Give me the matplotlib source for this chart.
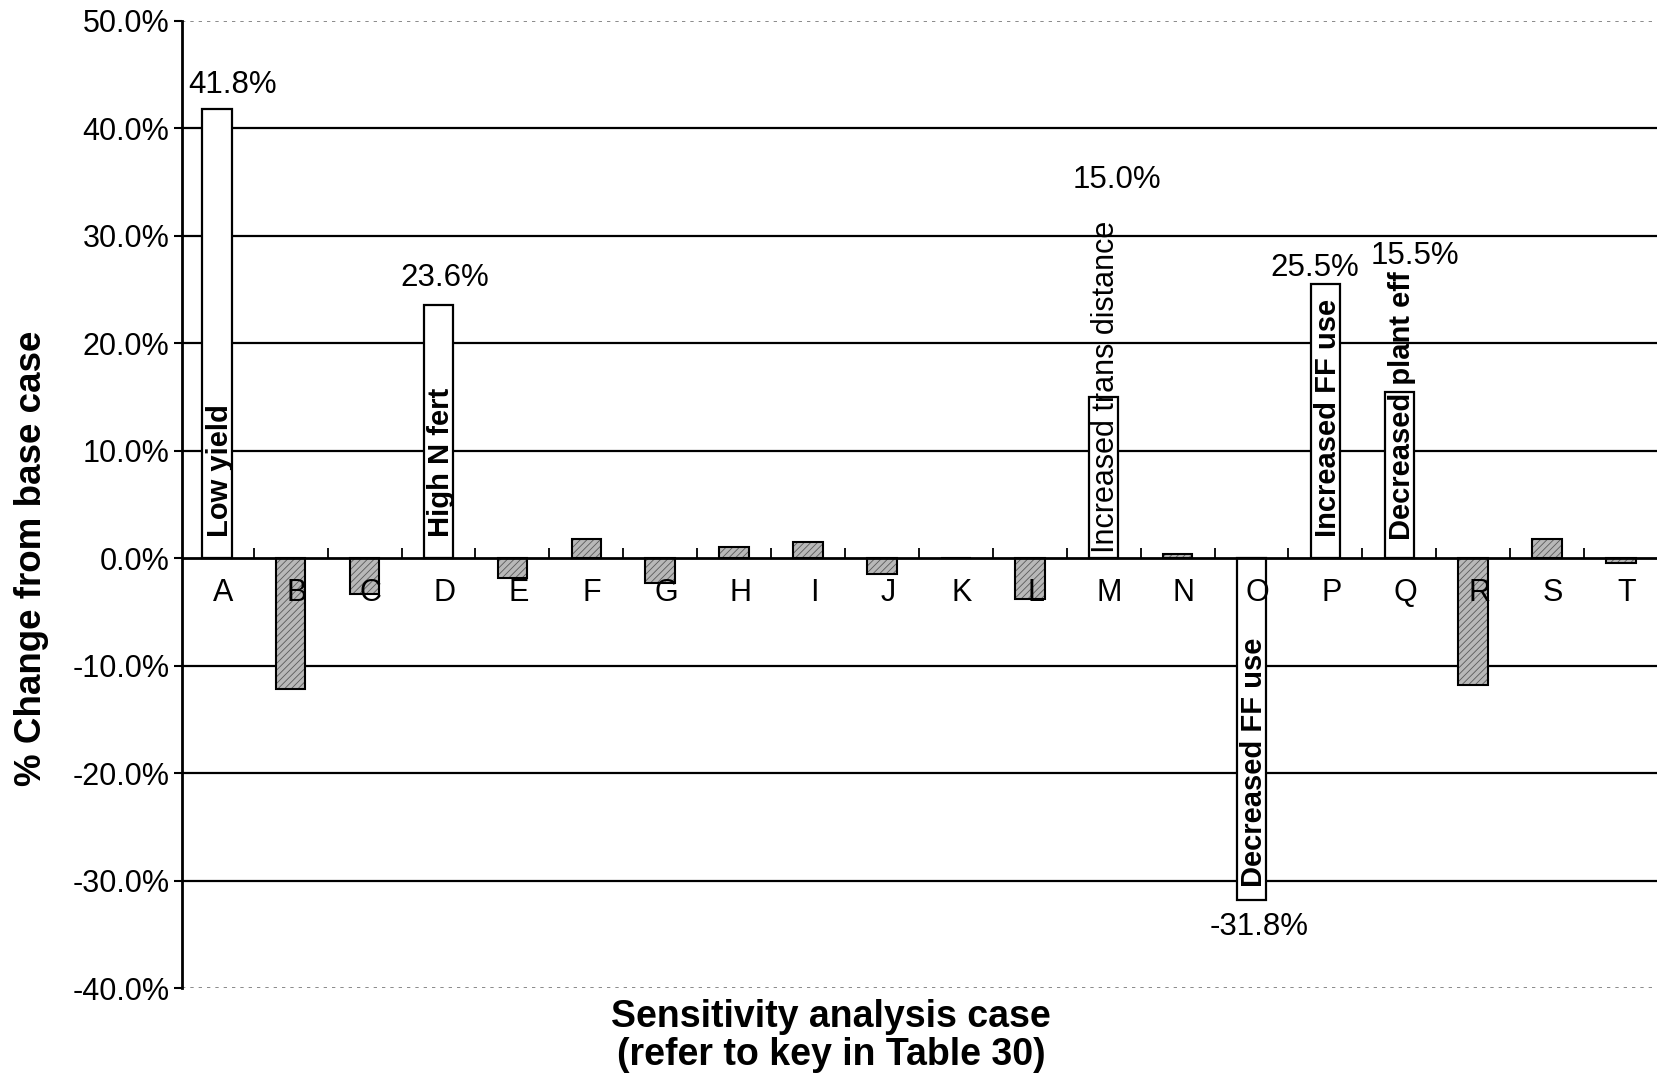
import matplotlib
matplotlib.use("Agg")
import matplotlib.pyplot as plt
import matplotlib.transforms as mtransforms
import numpy as np

plt.rcParams['font.family'] = ['Liberation Sans', 'DejaVu Sans']
plt.rcParams['hatch.linewidth'] = 0.6

# ---- data ----
categories = list("ABCDEFGHIJKLMNOPQRST")
values = [41.8, -12.2, -3.3, 23.6, -1.8, 1.8, -2.3, 1.0, 1.5, -1.5,
          0.0, -3.8, 15.0, 0.4, -31.8, 25.5, 15.5, -11.8, 1.8, -0.4]
highlighted = ["A", "D", "M", "O", "P", "Q"]
bar_texts = {"A": "Low yield", "D": "High N fert", "M": "Increased trans distance",
             "O": "Decreased FF use", "P": "Increased FF use", "Q": "Decreased plant eff"}
yticks = [50, 40, 30, 20, 10, 0, -10, -20, -30, -40]

# ---- placement of annotations (x offset in category units, y in %) ----
value_label_pos = {"A": (0.21, 44.0), "D": (0.08, 26.1), "M": (0.18, 35.2),
                   "O": (0.10, -34.3), "P": (-0.15, 27.0), "Q": (0.21, 28.1)}
bar_text_pos = {"A": (0.04, 2.0, True), "D": (0.04, 2.0, True), "M": (0.03, 0.5, False),
                "O": (0.04, -30.6, True), "P": (0.04, 2.0, True), "Q": (0.04, 1.7, True)}

W, H = 1658, 1080
fig = plt.figure(figsize=(W / 100, H / 100), dpi=100)
left, right = 182 / W, 1.0
bottom, top = 1 - 988 / H, 1 - 21 / H
ax = fig.add_axes([left, bottom, right - left, top - bottom])

x = np.arange(len(categories))
vals = np.array(values)
is_hl = np.array([c in highlighted for c in categories])
width = 0.40

# gridlines
ax.set_axisbelow(False)
for t in yticks:
    if t in (50, -40):
        ax.axhline(t, color='#777777', lw=1.2, ls=(0, (2, 3)), zorder=0.5)
    elif t != 0:
        ax.axhline(t, color='black', lw=1.6, zorder=0.5)

# gray stippled bars
ax.bar(x[~is_hl], vals[~is_hl], width=width, color='#b8b8b8', edgecolor='#5a5a5a',
       hatch='/////', linewidth=0, zorder=1.0)
ax.bar(x[~is_hl], vals[~is_hl], width=width, fill=False, edgecolor='black',
       linewidth=1.5, zorder=1.1)
# white highlighted bars
ax.bar(x[is_hl], vals[is_hl], width=width, color='white', edgecolor='black',
       linewidth=1.6, zorder=1.2)

ax.axhline(0, color='black', lw=2.0, zorder=4)

# annotations
for c, v in zip(categories, values):
    i = categories.index(c)
    if c in value_label_pos:
        dx, yy = value_label_pos[c]
        ax.text(i + dx, yy, f"{v:.1f}%", ha='center', va='center', fontsize=22.5, zorder=5)
    if c in bar_text_pos:
        dx, yy, bold = bar_text_pos[c]
        ax.text(i + dx, yy, bar_texts[c], rotation=90, ha='center', va='bottom',
                fontsize=21 if bold else 22, fontweight='bold' if bold else 'normal',
                zorder=5)

ax.set_xlim(-0.47, 19.5)
ax.set_ylim(-40, 50)

# spines
for s in ['top', 'right']:
    ax.spines[s].set_visible(False)
ax.spines['left'].set_linewidth(2.0)
ax.spines['bottom'].set_position(('data', 0))
ax.spines['bottom'].set_visible(False)

ax.set_yticks(yticks)
ax.set_yticklabels([f"{t:.1f}%" for t in yticks], fontsize=22)
ax.tick_params(axis='y', direction='out', length=6, width=1.5, pad=3)

ax.set_xticks(x)
ax.set_xticklabels(categories, fontsize=22)
ax.set_xticks(x[:-1] + 0.5, minor=True)
ax.tick_params(axis='x', which='major', length=0, pad=14)
ax.tick_params(axis='x', which='minor', direction='in', length=7, width=1.3)
offset = mtransforms.ScaledTranslation(6 / 100, 0, fig.dpi_scale_trans)
for lab in ax.get_xticklabels():
    lab.set_transform(lab.get_transform() + offset)

fig.text(32 / W, 1 - 558 / H, "% Change from base case", rotation=90, ha='center',
         va='center', fontsize=26.5, fontweight='bold')
fig.text(831 / W, 1 - 1036 / H, "Sensitivity analysis case\n(refer to key in Table 30)",
         ha='center', va='center', fontsize=27, fontweight='bold', linespacing=1.1,
         multialignment='center')

fig.savefig("out.png", dpi=100)
